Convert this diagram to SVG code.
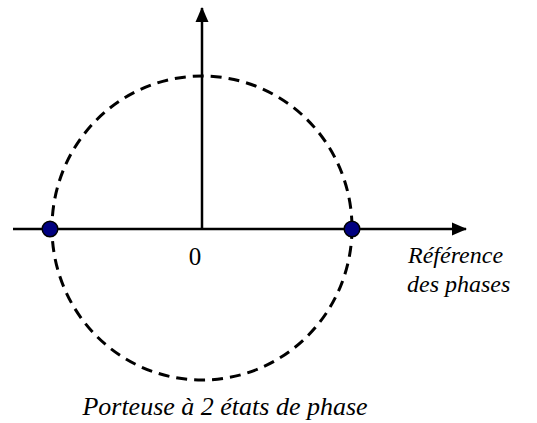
<svg xmlns="http://www.w3.org/2000/svg" width="537" height="423" viewBox="0 0 537 423">
<style>
.ax{stroke:#000;stroke-width:2.5;fill:none}
.circ{stroke:#000;stroke-width:3;fill:none;stroke-dasharray:11 7}
.dot{fill:#000080;stroke:#000;stroke-width:1.5}
.t{font-family:'Liberation Serif','Times New Roman',serif;font-size:24px;fill:#000}
.it{font-style:italic}
</style>
<defs>
<marker id="ah" markerWidth="15" markerHeight="14" refX="14" refY="7" orient="auto" markerUnits="userSpaceOnUse">
<path d="M0,0.5 L15,7 L0,13.5 Z" fill="#000"/>
</marker>
</defs>
<g id="circle"><ellipse class="circ" cx="202" cy="228" rx="150" ry="152"/></g>
<g id="connectors">
<line class="ax" x1="13" y1="229" x2="466" y2="229" marker-end="url(#ah)"/>
<line class="ax" x1="202" y1="229" x2="202" y2="8" marker-end="url(#ah)"/>
</g>
<g id="p1"><circle class="dot" cx="50" cy="229" r="7.8"/></g>
<g id="p2"><circle class="dot" cx="352" cy="229" r="7.8"/></g>
<g id="origin"><text class="t" x="195" y="265" text-anchor="middle" style="font-size:25px">0</text></g>
<g id="ref"><text class="t it" x="408" y="263">Référence</text><text class="t it" x="407" y="292">des phases</text></g>
<g id="caption"><text class="t it" x="225" y="415" text-anchor="middle" style="font-size:26px">Porteuse à 2 états de phase</text></g>
</svg>
